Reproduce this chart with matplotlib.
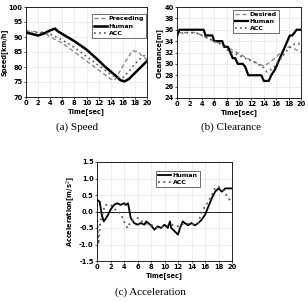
import numpy as np
import matplotlib.pyplot as plt

# Speed panel
spd_t_pre = [0, 1, 2, 3, 4, 5, 6, 8, 10, 12, 14, 14.6, 15.5, 16.5, 17.6, 18.5, 19.3, 20]
spd_pre = [92, 92, 91.5, 91.5, 90, 89, 88, 85, 82, 79, 76, 75.5, 78.5, 82, 85.5, 85, 83.5, 82.5]
spd_t_hum = [0, 1, 2, 3, 4, 4.8, 5.2, 6, 7, 8, 9, 10, 11, 12, 13, 14, 15, 15.6, 16.3, 17, 18, 19, 20]
spd_hum = [91.5, 91, 90.5, 91.2, 92.2, 92.8, 92, 91, 89.8, 88.6, 87.2, 85.8, 84, 82.2, 80.2, 78.5, 76.8, 75.6, 75.2, 76, 78, 80, 82]
spd_t_acc = [0, 1, 2, 3, 4, 5, 6, 8, 10, 12, 14, 15, 16, 17, 18, 19, 20]
spd_acc = [92, 91.5, 91.5, 91.5, 91, 90, 89, 86.5, 83.5, 80.5, 77.5, 76.5, 76.5, 78.5, 81, 83, 84.5]

# Clearance panel
clr_t_des = [0, 1, 2, 3, 4, 5, 6, 7, 8, 9, 10, 11, 12, 13, 14, 15, 16, 17, 18, 19, 20]
clr_des = [35.5, 35.5, 35.5, 35.5, 35, 34.5, 34, 33.6, 33, 32.4, 31.8, 31.2, 30.6, 30.1, 29.6, 30.3, 31.2, 32.3, 33.0, 32.6, 32]
clr_t_hum = [0, 0.4, 4.3, 4.6, 5.7, 6.0, 7.3, 7.6, 8.2, 8.6, 9.0, 9.4, 9.8, 10.6, 11.0, 11.5, 13.6, 14.0, 14.8, 15.2, 15.8, 16.2, 16.6, 17.0, 17.4, 17.8, 18.2, 18.6, 19.3, 20]
clr_hum = [35, 36, 36, 35, 35, 34, 34, 33, 33, 32, 31, 31, 30, 30, 29.5, 28, 28, 27, 27, 28, 29, 30, 31, 32, 33, 34, 35, 35, 36, 36]
clr_t_acc = [0, 1, 2, 3, 4, 5, 6, 7, 8, 9, 10, 11, 12, 13, 14, 14.5, 15.5, 16.5, 17.5, 18, 19, 20]
clr_acc = [35, 35.5, 35.5, 35.5, 35, 34.5, 34, 33.5, 32.5, 32, 31.5, 31, 30.5, 30, 29.3, 28.6, 29.2, 30.6, 32.0, 32.8, 33.5, 33.6]

# Acceleration panel
acc_t_hum = [0, 0.4, 0.7, 1.0, 1.5, 2.0, 2.5, 3.0, 3.5, 4.0, 4.3, 4.6, 5.0, 5.5, 6.0, 6.5, 7.0, 7.3, 8.0, 8.5, 9.0, 9.5,
             10.0, 10.5, 10.8, 11.0, 11.5, 12.0, 12.3, 12.7, 13.0, 13.5, 14.0, 14.5, 15.0, 15.5, 16.0, 16.5, 17.0, 17.5,
             18.0, 18.5, 19.0, 20.0]
acc_hum = [0.35, 0.3, -0.1, -0.3, -0.15, 0.05, 0.2, 0.25, 0.2, 0.25, 0.2, 0.25, -0.2, -0.35, -0.4, -0.35, -0.4, -0.3,
           -0.42, -0.55, -0.45, -0.5, -0.4, -0.5, -0.3, -0.5, -0.6, -0.7, -0.5, -0.3, -0.35, -0.42, -0.35, -0.42,
           -0.35, -0.25, -0.1, 0.15, 0.4, 0.6, 0.7, 0.6, 0.7, 0.7]
acc_t_acc = [0, 0.2, 0.5, 1.2, 2.0, 2.5, 3.0, 3.5, 4.0, 4.5, 5.0, 6.0, 7.0, 8.0, 9.0, 10.0, 11.0, 12.0, 13.0, 14.0,
             15.0, 15.5, 16.5, 17.0, 17.5, 18.0, 18.5, 19.0, 20.0]
acc_acc = [-0.1, -1.0, -0.3, 0.2, 0.2, 0.1, 0.0, -0.05, -0.3, -0.5, -0.3, -0.2, -0.35, -0.4, -0.5, -0.45, -0.4,
           -0.45, -0.35, -0.4, -0.35, 0.0, 0.3, 0.5, 0.7, 0.75, 0.7, 0.55, 0.25]

xticks = list(range(0, 21, 2))

W, H = 308, 302
fig = plt.figure(figsize=(W / 100, H / 100), dpi=100)


def box(x0, x1, y0, y1):
    return [x0 / W, 1 - y1 / H, (x1 - x0) / W, (y1 - y0) / H]


def style(ax, ylabel, ylim, yticks, yfmt):
    ax.set_xlim(0, 20)
    ax.set_ylim(*ylim)
    ax.set_xticks(xticks)
    ax.set_yticks(yticks)
    ax.set_yticklabels([yfmt.format(v) for v in yticks])
    ax.tick_params(labelsize=4.8, length=1.5, width=0.5, pad=1)
    for lab in ax.get_xticklabels() + ax.get_yticklabels():
        lab.set_fontweight("bold")
    ax.set_xlabel("Time[sec]", fontsize=4.8, fontweight="bold", labelpad=1)
    ax.set_ylabel(ylabel, fontsize=4.8, fontweight="bold", labelpad=1)
    ax.grid(True, color="#dddddd", linewidth=0.4)
    for s in ax.spines.values():
        s.set_linewidth(0.6)


def legend(ax, anchor):
    leg = ax.legend(loc="upper right", bbox_to_anchor=anchor, borderaxespad=0, fontsize=4.5, frameon=True,
                    fancybox=False, edgecolor="black", handlelength=2.0, borderpad=0.3, labelspacing=0.3,
                    handletextpad=0.3)
    leg.get_frame().set_linewidth(0.5)
    for t in leg.get_texts():
        t.set_fontweight("bold")


# (a) Speed
ax1 = fig.add_axes(box(26, 147, 7, 97))
ax1.plot(spd_t_pre, spd_pre, color="#888888", linestyle=(0, (3, 2)), linewidth=1.0, label="Preceding")
ax1.plot(spd_t_hum, spd_hum, color="black", linewidth=1.8, label="Human")
ax1.plot(spd_t_acc, spd_acc, color="#555555", linestyle=(0, (1, 2)), linewidth=1.2, label="ACC")
style(ax1, "Speed[km/h]", (70, 100), list(range(70, 101, 5)), "{:d}")
legend(ax1, (0.99, 0.92))

# (b) Clearance
ax2 = fig.add_axes(box(177, 301, 7, 98))
ax2.plot(clr_t_des, clr_des, color="#888888", linestyle=(0, (3, 2)), linewidth=1.0, label="Desired")
ax2.plot(clr_t_hum, clr_hum, color="black", linewidth=1.6, label="Human")
ax2.plot(clr_t_acc, clr_acc, color="#555555", linestyle=(0, (1, 2)), linewidth=1.2, label="ACC")
style(ax2, "Clearance[m]", (24, 40), list(range(24, 41, 2)), "{:d}")
legend(ax2, (0.82, 0.97))

# (c) Acceleration
ax3 = fig.add_axes(box(97, 232, 162, 261))
ax3.axhline(0, color="black", linewidth=0.6)
ax3.plot(acc_t_hum, acc_hum, color="black", linewidth=1.3, label="Human")
ax3.plot(acc_t_acc, acc_acc, color="#555555", linestyle=(0, (1, 2)), linewidth=1.3, label="ACC")
style(ax3, "Acceleration[m/s$^2$]", (-1.5, 1.5), [-1.5, -1.0, -0.5, 0.0, 0.5, 1.0, 1.5], "{:.1f}")
legend(ax3, (0.76, 0.91))

cap = dict(fontsize=8, family="Liberation Serif", ha="center", va="center")
fig.text(77 / W, 1 - 127 / H, "(a) Speed", **cap)
fig.text(231 / W, 1 - 127 / H, "(b) Clearance", **cap)
fig.text(150 / W, 1 - 292 / H, "(c) Acceleration", **cap)

fig.savefig("out.png", dpi=100)
